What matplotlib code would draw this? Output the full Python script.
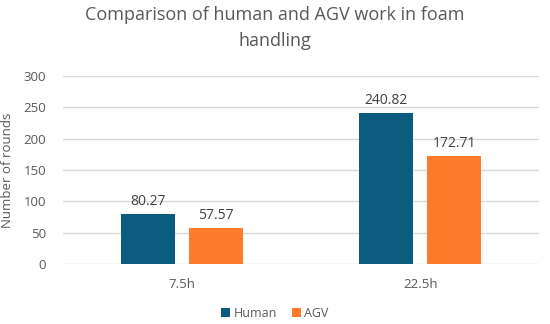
import numpy as np
import matplotlib
matplotlib.use("Agg")
import matplotlib.pyplot as plt

plt.rcParams['font.family'] = ['Open Sans', 'DejaVu Sans']

# data
categories = ["7.5h", "22.5h"]
human = [80.27, 240.82]
agv = [57.57, 172.71]
yticks = [0, 50, 100, 150, 200, 250, 300]

fig = plt.figure(figsize=(5.5, 3.24), dpi=100)
ax = fig.add_axes([0.1145, 0.1852, 0.866, 0.5802])

x = np.arange(len(categories))
w = 0.227
off = 0.143
b1 = ax.bar(x - off, human, w, color="#0b5c7f", label="Human", zorder=3)
b2 = ax.bar(x + off, agv, w, color="#ff7a2a", label="AGV", zorder=3)

for bars, vals in ((b1, human), (b2, agv)):
    for r, v in zip(bars, vals):
        ax.text(r.get_x() + r.get_width() / 2, v + 8, f"{v:.2f}",
                ha="center", va="bottom", fontsize=10, color="#404040")

ax.set_xlim(-0.5, 1.5)
ax.set_ylim(0, 300)
ax.set_yticks(yticks)
ax.set_xticks(x)
ax.set_xticklabels(categories)
ax.grid(axis="y", color="#d9d9d9", linewidth=1, zorder=0)
for s in ax.spines.values():
    s.set_visible(False)
ax.tick_params(axis="both", length=0, labelsize=9.5, labelcolor="#595959")
ax.tick_params(axis="y", pad=12)
ax.tick_params(axis="x", pad=10)
ax.set_ylabel("Number of rounds", fontsize=9.5, color="#595959")
ax.yaxis.set_label_coords(-0.103, 0.5)

fig.suptitle("Comparison of human and AGV work in foam\nhandling",
             x=0.5, y=0.982, fontsize=13, color="#595959", linespacing=1.6)

fig.legend(handles=[b1, b2], loc="center", bbox_to_anchor=(0.5, 0.032),
           ncol=2, frameon=False, fontsize=9, labelcolor="#595959",
           handlelength=0.7, handleheight=0.7, handletextpad=0.3,
           columnspacing=1.2)

fig.savefig("out.png", dpi=100)
